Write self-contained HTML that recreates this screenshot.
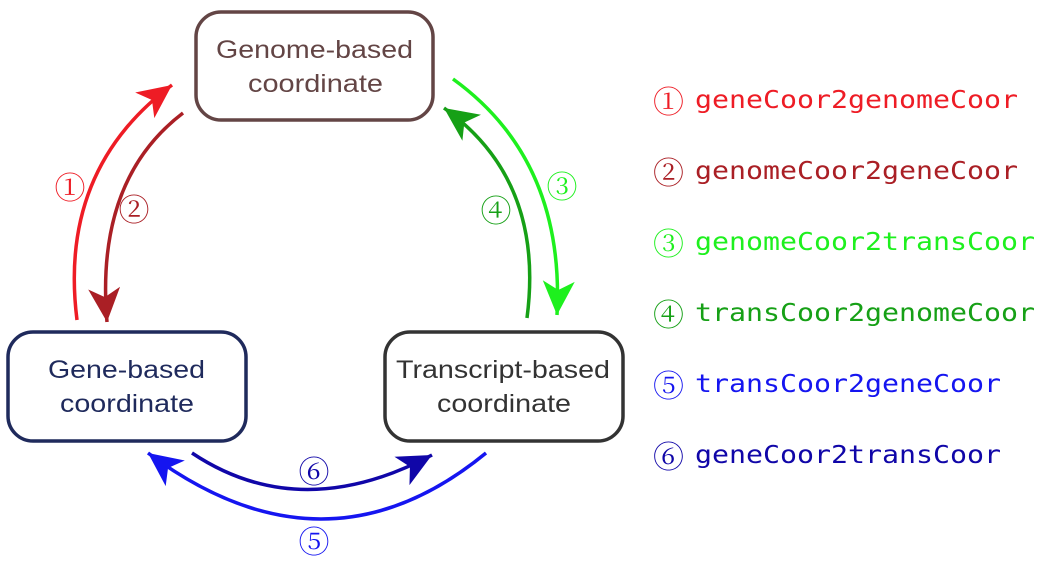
<!DOCTYPE html>
<html><head><style>body{margin:0;background:#fff}svg{display:block}</style></head><body>
<svg width="1056" height="562" viewBox="0 0 1056 562" xmlns="http://www.w3.org/2000/svg">
<defs>
<marker id="m1" markerUnits="userSpaceOnUse" markerWidth="44" markerHeight="44" refX="36" refY="22" orient="auto" viewBox="0 0 44 44"><path d="M36,22 L2,6 L11,22 L2,38 Z" fill="#ee1c25"/></marker>
<marker id="m2" markerUnits="userSpaceOnUse" markerWidth="44" markerHeight="44" refX="36" refY="22" orient="auto" viewBox="0 0 44 44"><path d="M36,22 L2,6 L11,22 L2,38 Z" fill="#aa1f25"/></marker>
<marker id="m3" markerUnits="userSpaceOnUse" markerWidth="44" markerHeight="44" refX="36" refY="22" orient="auto" viewBox="0 0 44 44"><path d="M36,22 L2,6 L11,22 L2,38 Z" fill="#1ef01e"/></marker>
<marker id="m4" markerUnits="userSpaceOnUse" markerWidth="44" markerHeight="44" refX="36" refY="22" orient="auto" viewBox="0 0 44 44"><path d="M36,22 L2,6 L11,22 L2,38 Z" fill="#16a016"/></marker>
<marker id="m5" markerUnits="userSpaceOnUse" markerWidth="44" markerHeight="44" refX="36" refY="22" orient="auto" viewBox="0 0 44 44"><path d="M36,22 L2,6 L11,22 L2,38 Z" fill="#1515f0"/></marker>
<marker id="m6" markerUnits="userSpaceOnUse" markerWidth="44" markerHeight="44" refX="36" refY="22" orient="auto" viewBox="0 0 44 44"><path d="M36,22 L2,6 L11,22 L2,38 Z" fill="#1006a8"/></marker>
</defs>
<g fill="none" stroke-width="3.5" stroke-linecap="butt">
<rect x="196" y="12" width="237" height="108" rx="25" stroke="#634545"/>
<rect x="8" y="332" width="238" height="109" rx="25" stroke="#1f2a5c"/>
<rect x="385" y="332" width="238" height="109" rx="25" stroke="#333"/>
<path d="M77,320 Q58,170 172,85" stroke="#ee1c25" marker-end="url(#m1)"/>
<path d="M183,113 Q95,180 107,322" stroke="#aa1f25" marker-end="url(#m2)"/>
<path d="M453,79 Q565,160 557,315" stroke="#1ef01e" marker-end="url(#m3)"/>
<path d="M527,318 Q545,180 444,108" stroke="#16a016" marker-end="url(#m4)"/>
<path d="M192,453 Q300,525 432,455" stroke="#1006a8" marker-end="url(#m6)"/>
<path d="M486,453 Q325,585 148,453" stroke="#1515f0" marker-end="url(#m5)"/>
</g>
<g font-family="Liberation Sans, sans-serif" font-size="25">
<text x="216" y="58" textLength="197" lengthAdjust="spacingAndGlyphs" fill="#634545">Genome-based</text>
<text x="248" y="92" textLength="135" lengthAdjust="spacingAndGlyphs" fill="#634545">coordinate</text>
<text x="48" y="378" textLength="157" lengthAdjust="spacingAndGlyphs" fill="#1f2a5c">Gene-based</text>
<text x="60" y="412" textLength="134" lengthAdjust="spacingAndGlyphs" fill="#1f2a5c">coordinate</text>
<text x="396" y="378" textLength="214" lengthAdjust="spacingAndGlyphs" fill="#333">Transcript-based</text>
<text x="437" y="412" textLength="134" lengthAdjust="spacingAndGlyphs" fill="#333">coordinate</text>
</g>
<g font-family="Noto Serif CJK SC, DejaVu Serif, serif" font-size="31" text-anchor="middle">
<text x="70" y="199" fill="#ee1c25">①</text>
<text x="134" y="221" fill="#aa1f25">②</text>
<text x="562" y="198" fill="#1ef01e">③</text>
<text x="496" y="222" fill="#16a016">④</text>
<text x="314" y="553" fill="#1515f0">⑤</text>
<text x="314" y="483" fill="#1006a8">⑥</text>
</g>
<g font-family="Noto Serif CJK SC, DejaVu Serif, serif" font-size="31">
<text x="653" y="113" fill="#ee1c25">①</text>
<text x="653" y="184" fill="#aa1f25">②</text>
<text x="653" y="255" fill="#1ef01e">③</text>
<text x="653" y="326" fill="#16a016">④</text>
<text x="653" y="397" fill="#1515f0">⑤</text>
<text x="653" y="468" fill="#1006a8">⑥</text>
</g>
<g font-family="DejaVu Sans Mono, Liberation Mono, monospace" font-size="25">
<text x="695" y="108" textLength="323" lengthAdjust="spacingAndGlyphs" fill="#ee1c25">geneCoor2genomeCoor</text>
<text x="695" y="179" textLength="323" lengthAdjust="spacingAndGlyphs" fill="#aa1f25">genomeCoor2geneCoor</text>
<text x="695" y="250" textLength="340" lengthAdjust="spacingAndGlyphs" fill="#1ef01e">genomeCoor2transCoor</text>
<text x="695" y="321" textLength="340" lengthAdjust="spacingAndGlyphs" fill="#16a016">transCoor2genomeCoor</text>
<text x="695" y="392" textLength="306" lengthAdjust="spacingAndGlyphs" fill="#1515f0">transCoor2geneCoor</text>
<text x="695" y="463" textLength="306" lengthAdjust="spacingAndGlyphs" fill="#1006a8">geneCoor2transCoor</text>
</g>
</svg>
</body></html>
